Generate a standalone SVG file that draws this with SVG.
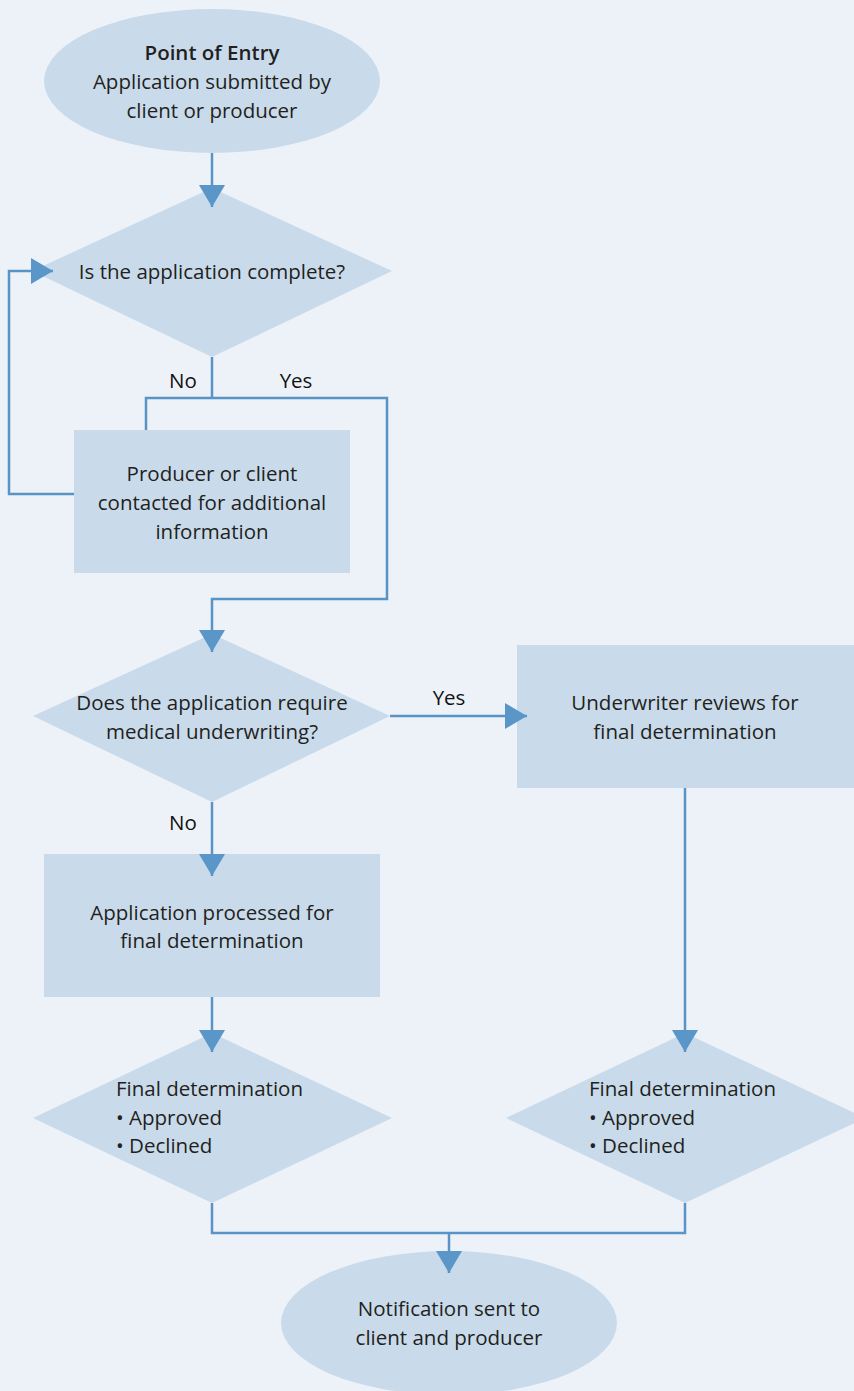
<svg xmlns="http://www.w3.org/2000/svg" width="854" height="1391" viewBox="0 0 854 1391">
<style>
.shape{fill:#c9dbeb}
.t{font-family:"Open Sans","Noto Sans","Liberation Sans",sans-serif;font-size:20.5px;font-weight:400;fill:#231f20}
.c{text-anchor:middle}
.b{font-weight:600}
.l{font-weight:500;fill:#111}
.conn{fill:none;stroke:#5a93c5;stroke-width:2.5}
</style>
<defs>
<marker id="arr" viewBox="0 0 22 26" refX="22" refY="13" markerWidth="22" markerHeight="26" markerUnits="userSpaceOnUse" orient="auto">
<path d="M0,0 L22,13 L0,26 z" fill="#5b96c9"/>
</marker>
</defs>
<rect width="854" height="1391" fill="#edf2f9"/>
<g id="start">
<ellipse class="shape" cx="212" cy="81" rx="168" ry="72"/>
<text class="t c b" x="212" y="60">Point of Entry</text>
<text class="t c" x="212" y="89">Application submitted by</text>
<text class="t c" x="212" y="118">client or producer</text>
</g>
<g id="complete">
<polygon class="shape" points="212,188 392,271 212,357 32,271"/>
<text class="t c" x="212" y="279">Is the application complete?</text>
</g>
<g id="contact">
<rect class="shape" x="74" y="430" width="276" height="143"/>
<text class="t c" x="212" y="481">Producer or client</text>
<text class="t c" x="212" y="510">contacted for additional</text>
<text class="t c" x="212" y="539">information</text>
</g>
<g id="medical">
<polygon class="shape" points="212,634 390,716 212,802 33,716"/>
<text class="t c" x="212" y="710">Does the application require</text>
<text class="t c" x="212" y="739">medical underwriting?</text>
</g>
<g id="underwriter">
<rect class="shape" x="517" y="645" width="337" height="143"/>
<text class="t c" x="685" y="710">Underwriter reviews for</text>
<text class="t c" x="685" y="739">final determination</text>
</g>
<g id="processed">
<rect class="shape" x="44" y="854" width="336" height="143"/>
<text class="t c" x="212" y="920">Application processed for</text>
<text class="t c" x="212" y="948">final determination</text>
</g>
<g id="final-left">
<polygon class="shape" points="212,1033 392,1118 212,1203 33,1118"/>
<text class="t" x="116" y="1096">Final determination</text>
<text class="t" x="116" y="1125">• Approved</text>
<text class="t" x="116" y="1153">• Declined</text>
</g>
<g id="final-right">
<polygon class="shape" points="685,1033 865,1118 685,1203 506,1118"/>
<text class="t" x="589" y="1096">Final determination</text>
<text class="t" x="589" y="1125">• Approved</text>
<text class="t" x="589" y="1153">• Declined</text>
</g>
<g id="notify">
<ellipse class="shape" cx="449" cy="1323" rx="168" ry="72"/>
<text class="t c" x="449" y="1316">Notification sent to</text>
<text class="t c" x="449" y="1345">client and producer</text>
</g>
<g id="connectors">
<path class="conn" d="M212,153 V207" marker-end="url(#arr)"/>
<path class="conn" d="M212,357 V398"/>
<path class="conn" d="M146,430 V398 H387 V599 H212 V652" marker-end="url(#arr)"/>
<path class="conn" d="M74,494 H9 V271 H53" marker-end="url(#arr)"/>
<path class="conn" d="M390,716 H527" marker-end="url(#arr)"/>
<path class="conn" d="M212,802 V876" marker-end="url(#arr)"/>
<path class="conn" d="M212,997 V1052" marker-end="url(#arr)"/>
<path class="conn" d="M685,788 V1052" marker-end="url(#arr)"/>
<path class="conn" d="M212,1203 V1233 H685 V1203"/>
<path class="conn" d="M449,1233 V1273" marker-end="url(#arr)"/>
<text class="t c l" x="183" y="388">No</text>
<text class="t c l" x="296" y="388">Yes</text>
<text class="t c l" x="449" y="705">Yes</text>
<text class="t c l" x="183" y="830">No</text>
</g>
</svg>
